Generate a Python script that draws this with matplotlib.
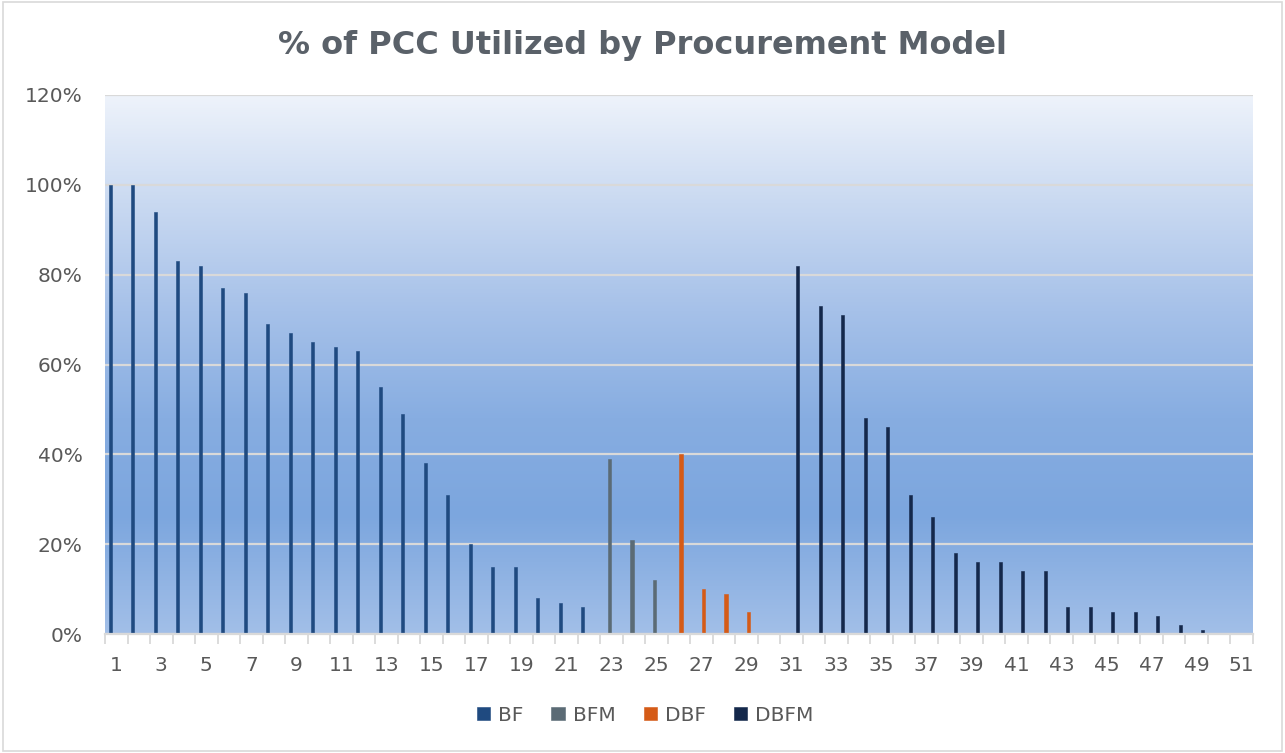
import numpy as np
import matplotlib.pyplot as plt
from matplotlib.colors import LinearSegmentedColormap
from matplotlib.ticker import FuncFormatter

# Categories 1..51, each model only fills its own block
categories = list(range(1, 52))

bf_pos = list(range(1, 23))
bf_vals = [100, 100, 94, 83, 82, 77, 76, 69, 67, 65, 64, 63, 55, 49, 38, 31, 20, 15, 15, 8, 7, 6]

bfm_pos = [23, 24, 25]
bfm_vals = [39, 21, 12]

dbf_pos = [26, 27, 28, 29]
dbf_vals = [40, 10, 9, 5]

dbfm_pos = list(range(31, 50))
dbfm_vals = [82, 73, 71, 48, 46, 31, 26, 18, 16, 16, 14, 14, 6, 6, 5, 5, 4, 2, 1]

series = ['BF', 'BFM', 'DBF', 'DBFM']
colors = ['#1f4a80', '#5b6b75', '#d55b17', '#14284b']

text_col = '#595959'

fig = plt.figure(figsize=(12.85, 7.53), dpi=100)
ax = fig.add_axes([105 / 1285, 1 - 634 / 753, (1253 - 105) / 1285, (634 - 95) / 753])

# gradient background of plot area
grad_cmap = LinearSegmentedColormap.from_list('bg', [
    (0.0, '#a2bfe8'),
    (0.22, '#7ca6de'),
    (0.40, '#87ade1'),
    (0.60, '#a6c1e9'),
    (0.80, '#c9d9f1'),
    (1.0, '#eef3fb'),
])
grad = np.linspace(0, 1, 256).reshape(-1, 1)
ax.imshow(grad, cmap=grad_cmap, aspect='auto', origin='lower',
          extent=[0.5, 51.5, 0, 120], zorder=0)

offsets = [-0.27, -0.09, 0.09, 0.27]
data = [(bf_pos, bf_vals), (bfm_pos, bfm_vals), (dbf_pos, dbf_vals), (dbfm_pos, dbfm_vals)]
for (pos, vals), off, c, name in zip(data, offsets, colors, series):
    ax.bar(np.array(pos) + off, vals, width=0.14, color=c, edgecolor=c, linewidth=0.4,
           label=name, zorder=3)

ax.set_xlim(0.5, 51.5)
ax.set_ylim(0, 120)

# grid lines
ax.set_yticks(np.arange(0, 121, 20))
ax.yaxis.set_major_formatter(FuncFormatter(lambda v, p: f'{int(v)}%'))
ax.grid(axis='y', color='#d9d9d9', linewidth=1.6, zorder=1)
ax.set_axisbelow(True)

# x labels on odd categories, tick marks on boundaries
ax.set_xticks(categories[::2])
ax.set_xticklabels([str(c) for c in categories[::2]])
ax.set_xticks(np.arange(0.5, 52, 1), minor=True)
ax.tick_params(axis='x', which='major', length=0, pad=16, labelsize=14.5, labelcolor=text_col)
ax.tick_params(axis='x', which='minor', length=7, width=1.3, color='#d9d9d9')
ax.tick_params(axis='y', length=0, pad=16, labelsize=14.5, labelcolor=text_col)

for s in ['top', 'right', 'left']:
    ax.spines[s].set_visible(False)
ax.spines['bottom'].set_color('#d9d9d9')
ax.spines['bottom'].set_linewidth(1.6)
ax.spines['bottom'].set_zorder(4)

fig.text(0.5, 1 - 54 / 753, '% of PCC Utilized by Procurement Model', ha='center', va='baseline',
         fontsize=23, fontweight='bold', color='#5a6169')

leg = fig.legend(loc='center', bbox_to_anchor=(0.502, 0.05), ncol=4, frameon=False,
                 fontsize=14.5, labelcolor=text_col, handlelength=0.65, handleheight=0.65,
                 handletextpad=0.4, columnspacing=1.4)

# light frame around the whole chart
fig.patches.append(plt.Rectangle((0.002, 0.003), 0.996, 0.994, transform=fig.transFigure,
                                 fill=False, edgecolor='#d9d9d9', linewidth=1.2))

fig.savefig('out.png', dpi=100)
